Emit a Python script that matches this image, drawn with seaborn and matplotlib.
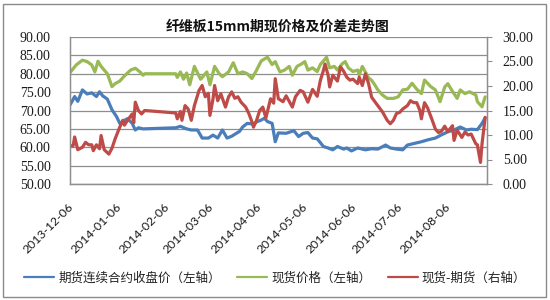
import numpy as np
import pandas as pd
import matplotlib
matplotlib.use("Agg")
import matplotlib.pyplot as plt
import matplotlib.transforms as mtransforms
from matplotlib.patches import Rectangle
import seaborn as sns

# ---------------- data ----------------
title = "纤维板15mm期现价格及价差走势图"
start_date = "2013-12-06"
end_date = "2014-08-31"
tick_dates = ["2013-12-06", "2014-01-06", "2014-02-06", "2014-03-06", "2014-04-06",
              "2014-05-06", "2014-06-06", "2014-07-06", "2014-08-06"]
series_names = ["期货连续合约收盘价（左轴）", "现货价格（左轴）", "现货-期货（右轴）"]
left_ticks = [50, 55, 60, 65, 70, 75, 80, 85, 90]
right_ticks = [0, 5, 10, 15, 20, 25, 30]

# days after 2013-12-06
fut_days = [0, 3, 5, 8, 11, 14, 17, 19, 21, 24, 27, 30, 32, 35, 37, 40, 42, 44, 47, 68,
            71, 75, 78, 82, 85, 89, 92, 95, 98, 101, 104, 107, 109, 111, 114, 118, 120, 123,
            125, 127, 130, 132, 134, 139, 144, 147, 150, 153, 156, 159, 163, 166, 169, 172,
            176, 178, 181, 185, 190, 194, 198, 203, 206, 210, 214, 217, 222, 226, 230, 235,
            239, 243, 247, 251, 255, 258, 262, 265, 267]
fut_vals = [71.5, 73.8, 72.5, 75.6, 74.5, 74.8, 73.8, 75.1, 74.0, 73.1, 70.2, 68.3, 66.5,
            67.3, 67.8, 66.5, 64.7, 65.3, 65.0, 65.3, 65.7, 65.0, 64.7, 64.7, 62.5, 62.5,
            63.3, 62.5, 64.7, 62.5, 63.0, 63.8, 64.3, 65.5, 66.5, 66.3, 66.9, 67.4, 67.9,
            67.0, 66.5, 61.5, 63.9, 63.8, 64.5, 62.9, 63.8, 64.0, 62.5, 62.3, 60.2, 59.8,
            59.3, 60.2, 59.5, 59.8, 59.0, 59.8, 59.3, 59.6, 59.5, 60.6, 59.8, 59.5, 59.3,
            60.6, 61.1, 61.5, 62.0, 62.5, 63.4, 64.2, 64.7, 65.5, 64.7, 64.9, 64.8, 66.5,
            68.0]

spot_days = [0, 4, 8, 11, 14, 16, 18, 20, 24, 27, 29, 32, 35, 39, 42, 45, 47, 48, 68, 69,
             71, 73, 75, 77, 80, 84, 88, 90, 93, 96, 98, 102, 105, 108, 111, 114, 117, 120,
             123, 127, 130, 132, 135, 138, 141, 143, 146, 149, 151, 153, 156, 159, 161, 164,
             165, 167, 170, 172, 175, 177, 179, 182, 185, 186, 188, 192, 194, 196, 198, 201,
             204, 208, 211, 214, 217, 220, 223, 226, 228, 232, 235, 238, 241, 243, 246, 249,
             251, 254, 257, 261, 262, 265, 267]
spot_vals = [80.3, 82.4, 83.7, 83.3, 82.4, 80.5, 83.4, 82.0, 80.0, 76.5, 77.3, 78.0, 79.4,
             81.0, 81.5, 80.5, 79.6, 80.0, 80.0, 79.0, 80.5, 78.5, 80.2, 77.0, 82.0, 78.5,
             80.5, 77.0, 82.0, 80.0, 79.2, 80.5, 83.0, 80.0, 80.5, 80.0, 78.7, 81.0, 83.5,
             84.5, 82.5, 83.3, 80.5, 81.0, 82.0, 79.6, 82.0, 82.7, 83.3, 81.0, 81.6, 80.6,
             82.5, 84.0, 84.5, 81.6, 82.0, 81.0, 82.7, 83.3, 81.6, 80.6, 81.0, 79.7, 82.0,
             78.9, 78.2, 77.0, 75.6, 74.2, 73.3, 73.3, 73.7, 75.6, 75.8, 77.4, 75.8, 74.6,
             78.3, 76.5, 75.6, 72.4, 76.4, 77.3, 75.2, 73.3, 75.6, 74.6, 75.1, 74.2, 72.4,
             71.0, 73.7]

basis_days = [0, 2, 3, 5, 8, 10, 12, 14, 15, 17, 19, 20, 22, 25, 27, 29, 32, 34, 35, 37,
              40, 41, 42, 44, 46, 48, 68, 69, 71, 72, 74, 76, 78, 80, 83, 85, 87, 89, 90,
              92, 93, 95, 97, 100, 102, 104, 106, 108, 110, 113, 115, 117, 118, 120, 122,
              124, 126, 129, 131, 132, 134, 137, 139, 143, 145, 148, 150, 153, 156, 159,
              161, 163, 164, 166, 167, 169, 172, 174, 176, 178, 180, 182, 185, 186, 188,
              190, 192, 194, 197, 201, 204, 206, 208, 210, 212, 214, 217, 219, 221, 223,
              225, 226, 228, 230, 233, 235, 237, 239, 241, 243, 246, 247, 249, 252, 254,
              256, 258, 261, 262, 264, 265, 267]
basis_vals = [7.8, 7.8, 9.6, 7.0, 7.5, 8.5, 8.0, 8.0, 6.8, 8.0, 7.2, 9.9, 7.0, 6.1, 7.3,
              9.2, 11.6, 13.0, 12.0, 13.0, 14.3, 12.5, 16.7, 15.0, 14.3, 15.0, 14.5, 13.3,
              14.8, 13.0, 16.0, 15.3, 13.0, 16.0, 19.1, 20.1, 17.8, 18.5, 14.0, 17.4, 20.1,
              17.0, 18.4, 15.7, 17.8, 18.8, 17.5, 17.8, 16.7, 15.7, 14.4, 12.7, 11.6, 13.0,
              15.0, 15.7, 13.5, 17.4, 16.5, 21.5, 17.4, 16.8, 18.0, 15.7, 17.8, 19.1, 18.8,
              16.7, 19.3, 17.9, 21.1, 23.2, 24.5, 22.2, 19.8, 22.2, 21.0, 23.9, 23.0, 21.8,
              21.2, 21.4, 20.5, 21.8, 20.1, 22.5, 20.5, 17.7, 16.4, 14.7, 13.0, 12.3, 13.0,
              14.4, 14.6, 15.3, 16.0, 17.0, 16.6, 16.6, 15.0, 13.3, 16.6, 15.5, 13.0, 11.2,
              10.5, 10.8, 11.8, 10.7, 11.9, 8.9, 11.0, 9.5, 10.6, 10.0, 10.2, 8.2, 8.0, 4.4,
              8.2, 13.6]

colors = ["#4A7EBB", "#98B954", "#BE4B48"]

# ---------------- frames ----------------
t0 = pd.Timestamp(start_date)
df_fut = pd.DataFrame({"date": t0 + pd.to_timedelta(fut_days, unit="D"), "v": fut_vals})
df_spot = pd.DataFrame({"date": t0 + pd.to_timedelta(spot_days, unit="D"), "v": spot_vals})
df_basis = pd.DataFrame({"date": t0 + pd.to_timedelta(basis_days, unit="D"), "v": basis_vals})

sns.set_theme(style="white")
plt.rcParams["font.family"] = ["Noto Sans CJK SC", "DejaVu Sans"]

fig = plt.figure(figsize=(5.5, 3.0), dpi=100)
ax = fig.add_axes([70 / 550, 1 - 184 / 300, (486.7 - 70) / 550, (184 - 37) / 300])
ax2 = ax.twinx()

lw = 2.3
sns.lineplot(data=df_fut, x="date", y="v", ax=ax, color=colors[0], lw=lw,
             label=series_names[0], legend=False)
sns.lineplot(data=df_spot, x="date", y="v", ax=ax, color=colors[1], lw=lw,
             label=series_names[1], legend=False)
sns.lineplot(data=df_basis, x="date", y="v", ax=ax2, color=colors[2], lw=lw,
             label=series_names[2], legend=False)

ax.set_xlim(t0, pd.Timestamp(end_date))
ax.set_ylim(left_ticks[0], left_ticks[-1])
ax2.set_ylim(right_ticks[0], right_ticks[-1])
ax.set_xlabel("")
ax.set_ylabel("")
ax2.set_ylabel("")

grid_c = "#8E8E8E"
ax.set_yticks(left_ticks)
ax.set_yticklabels([f"{v:.2f}" for v in left_ticks])
ax2.set_yticks(right_ticks)
ax2.set_yticklabels([f"{v:.2f}" for v in right_ticks])
ax.yaxis.grid(True, color=grid_c, lw=0.9)
ax.xaxis.grid(False)
ax2.grid(False)
ax.set_axisbelow(True)
ax.tick_params(axis="y", length=0, pad=14)
ax2.tick_params(axis="y", length=3.5, width=0.8, color=grid_c, pad=8, direction="out")

xt = [pd.Timestamp(d) for d in tick_dates]
ax.set_xticks(xt)
ax.set_xticklabels(tick_dates, rotation=45, ha="right")
ax.tick_params(axis="x", length=0, pad=12)
offset = mtransforms.ScaledTranslation(5 / 100, 0, fig.dpi_scale_trans)
for lab in ax.get_xticklabels():
    lab.set_transform(lab.get_transform() + offset)
    lab.set_fontfamily(["Lato", "DejaVu Sans"])
    lab.set_fontsize(8.8)
    lab.set_color("#1a1a1a")
for lab in list(ax.get_yticklabels()) + list(ax2.get_yticklabels()):
    lab.set_fontfamily(["Liberation Serif", "DejaVu Serif"])
    lab.set_fontsize(10)
    lab.set_color("#1a1a1a")

for a in (ax, ax2):
    for s in a.spines.values():
        s.set_color(grid_c)
        s.set_linewidth(0.9)
    a.spines["top"].set_visible(False)

fig.text(0.505, 1 - 27 / 300, title, ha="center", va="center", fontsize=10,
         fontweight="bold", color="#111111")

h1, l1 = ax.get_legend_handles_labels()
h2, l2 = ax2.get_legend_handles_labels()
leg = fig.legend(h1 + h2, l1 + l2, loc="center", bbox_to_anchor=(0.5, 1 - 278 / 300),
                 ncol=3, frameon=False, fontsize=9, handlelength=2.4, handletextpad=0.35,
                 columnspacing=1.3)
for t in leg.get_texts():
    t.set_color("#222222")
for h in leg.get_lines():
    h.set_linewidth(1.6)

fig.patches.append(Rectangle((3 / 550, 3 / 300), 543 / 550, 293 / 300,
                             transform=fig.transFigure, fill=False,
                             edgecolor="#8a8a8a", lw=1.0))

fig.savefig("out.png", dpi=100, facecolor="white")
